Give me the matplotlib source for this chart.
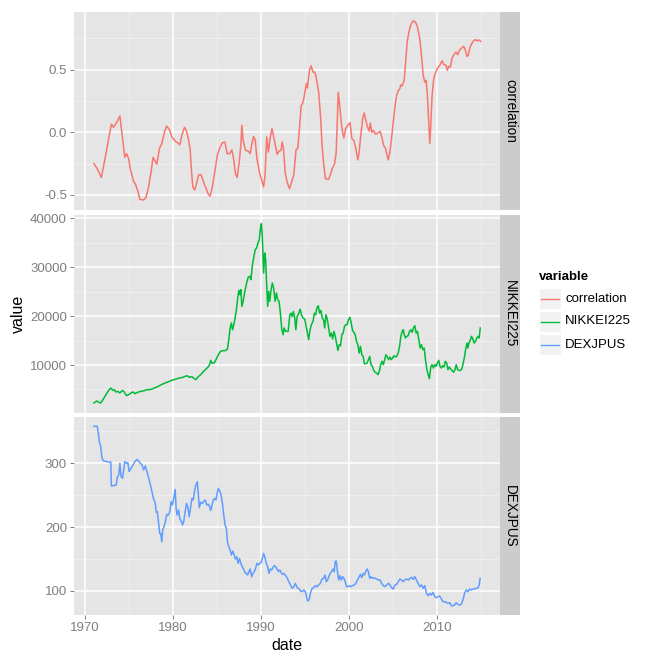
import matplotlib
matplotlib.use("Agg")
import matplotlib.pyplot as plt
from matplotlib.patches import Rectangle

plt.rcParams['font.family'] = ['Liberation Sans', 'DejaVu Sans']

# series (decimal years)
corr_year = [1971.06, 1971.44, 1971.9, 1972.4, 1972.7, 1973.04, 1973.27, 1973.65, 1974.0, 1974.3,
             1974.56, 1974.75, 1975.0, 1975.17, 1975.55, 1975.74, 1976.0, 1976.27, 1976.7, 1976.96,
             1977.22, 1977.53, 1977.76, 1978.2, 1978.48, 1978.75, 1979.05, 1979.3, 1979.6, 1979.9,
             1980.27, 1980.57, 1980.8, 1981.03, 1981.33, 1981.56, 1981.8, 1981.97, 1982.1, 1982.27,
             1982.47, 1982.66, 1982.93, 1983.23, 1983.5, 1983.73, 1984.0, 1984.22, 1984.45, 1984.75,
             1985.06, 1985.3, 1985.6, 1985.9, 1986.16, 1986.46, 1986.7, 1986.92, 1987.1, 1987.3,
             1987.53, 1987.72, 1987.83, 1987.98, 1988.25, 1988.55, 1988.78, 1988.97, 1989.16, 1989.35,
             1989.54, 1989.8, 1990.07, 1990.3, 1990.46, 1990.65, 1990.84, 1991.03, 1991.25, 1991.52,
             1991.83, 1992.05, 1992.28, 1992.4, 1992.55, 1992.74, 1992.97, 1993.23, 1993.46, 1993.72,
             1993.98, 1994.17, 1994.36, 1994.55, 1994.77, 1994.96, 1995.15, 1995.26, 1995.5, 1995.68,
             1995.9, 1996.1, 1996.28, 1996.54, 1996.77, 1996.92, 1997.1, 1997.3, 1997.67, 1997.86,
             1998.05, 1998.35, 1998.53, 1998.68, 1998.76, 1998.9, 1999.1, 1999.25, 1999.4, 1999.6,
             1999.85, 2000.1, 2000.3, 2000.53, 2000.75, 2000.98, 2001.13, 2001.35, 2001.54, 2001.7,
             2001.84, 2002.07, 2002.26, 2002.4, 2002.56, 2002.74, 2003.0, 2003.3, 2003.5, 2003.68,
             2003.9, 2004.14, 2004.28, 2004.44, 2004.62, 2004.8, 2005.0, 2005.2, 2005.38, 2005.56,
             2005.75, 2005.86, 2006.0, 2006.24, 2006.4, 2006.58, 2006.77, 2007.0, 2007.26, 2007.52,
             2007.74, 2008.0, 2008.2, 2008.38, 2008.57, 2008.72, 2008.87, 2009.02, 2009.14, 2009.25,
             2009.4, 2009.59, 2009.77, 2010.0, 2010.26, 2010.53, 2010.75, 2010.98, 2011.13, 2011.28,
             2011.47, 2011.65, 2011.88, 2012.1, 2012.3, 2012.48, 2012.78, 2012.97, 2013.16, 2013.35,
             2013.5, 2013.65, 2013.83, 2014.1, 2014.32, 2014.5, 2014.7, 2014.92]
corr_value = [-0.25, -0.29, -0.36, -0.18, -0.06, 0.064, 0.04, 0.08, 0.13, -0.05,
              -0.20, -0.17, -0.21, -0.29, -0.39, -0.41, -0.46, -0.535, -0.54, -0.52,
              -0.45, -0.32, -0.20, -0.255, -0.13, -0.09, 0.0, 0.05, 0.024, -0.037,
              -0.07, -0.085, -0.10, -0.024, 0.04, 0.01, -0.064, -0.136, -0.29, -0.436,
              -0.46, -0.42, -0.34, -0.34, -0.40, -0.44, -0.49, -0.51, -0.45, -0.32,
              -0.18, -0.13, -0.085, -0.077, -0.17, -0.17, -0.14, -0.22, -0.33, -0.36,
              -0.24, -0.10, 0.056, -0.064, -0.144, -0.15, -0.17, -0.09, -0.032, -0.064,
              -0.21, -0.31, -0.38, -0.436, -0.34, -0.037, -0.157, -0.05, 0.03, -0.064,
              -0.175, -0.15, -0.144, -0.077, -0.13, -0.32, -0.40, -0.45, -0.40, -0.34,
              -0.136, -0.13, 0.03, 0.21, 0.24, 0.31, 0.39, 0.354, 0.495, 0.53,
              0.48, 0.48, 0.43, 0.32, 0.11, -0.10, -0.25, -0.37, -0.375, -0.34,
              -0.295, -0.25, -0.157, 0.16, 0.32, 0.23, 0.08, 0.0, -0.045, 0.03,
              0.056, 0.077, -0.05, -0.064, -0.13, -0.22, -0.157, 0.0, 0.11, 0.154,
              0.11, 0.043, 0.01, 0.074, 0.0, 0.016, -0.016, -0.003, 0.008, -0.032,
              -0.104, -0.13, -0.18, -0.22, -0.157, -0.05, 0.08, 0.215, 0.295, 0.33,
              0.35, 0.38, 0.37, 0.415, 0.56, 0.72, 0.80, 0.86, 0.89, 0.88,
              0.84, 0.75, 0.61, 0.46, 0.40, 0.415, 0.295, 0.08, -0.09, 0.056,
              0.295, 0.43, 0.47, 0.51, 0.535, 0.57, 0.54, 0.535, 0.495, 0.527,
              0.52, 0.59, 0.62, 0.64, 0.62, 0.654, 0.673, 0.686, 0.66, 0.606,
              0.614, 0.667, 0.70, 0.73, 0.74, 0.73, 0.737, 0.726]

nikkei_year = [1971.06, 1971.37, 1971.63, 1971.83, 1972.13, 1972.47, 1972.74, 1972.97, 1973.2, 1973.35,
               1973.54, 1973.76, 1974.0, 1974.3, 1974.49, 1974.75, 1975.0, 1975.25, 1975.48, 1975.7,
               1976.0, 1976.4, 1976.77, 1977.07, 1977.34, 1977.64, 1977.9, 1978.2, 1978.48, 1978.86,
               1979.24, 1979.62, 1980.0, 1980.38, 1980.76, 1981.14, 1981.4, 1981.63, 1981.9, 1982.17,
               1982.4, 1982.62, 1982.85, 1983.16, 1983.46, 1983.76, 1984.0, 1984.18, 1984.3, 1984.45,
               1984.68, 1984.9, 1985.13, 1985.4, 1985.7, 1985.97, 1986.2, 1986.35, 1986.5, 1986.65,
               1986.77, 1986.88, 1987.03, 1987.19, 1987.34, 1987.49, 1987.6, 1987.72, 1987.83, 1987.98,
               1988.17, 1988.37, 1988.56, 1988.75, 1988.86, 1989.01, 1989.2, 1989.35, 1989.5, 1989.66,
               1989.81, 1989.92, 1990.04, 1990.15, 1990.3, 1990.42, 1990.53, 1990.65, 1990.76, 1990.87,
               1990.99, 1991.14, 1991.29, 1991.44, 1991.6, 1991.75, 1991.9, 1992.05, 1992.2, 1992.36,
               1992.51, 1992.62, 1992.81, 1993.08, 1993.27, 1993.42, 1993.53, 1993.68, 1993.83, 1993.95,
               1994.1, 1994.29, 1994.44, 1994.59, 1994.77, 1994.96, 1995.15, 1995.3, 1995.41, 1995.53,
               1995.71, 1995.9, 1996.05, 1996.2, 1996.35, 1996.5, 1996.65, 1996.8, 1996.95, 1997.1,
               1997.22, 1997.37, 1997.52, 1997.67, 1997.82, 1997.97, 1998.12, 1998.27, 1998.42, 1998.57,
               1998.72, 1998.87, 1999.02, 1999.17, 1999.32, 1999.47, 1999.62, 1999.77, 1999.92, 2000.08,
               2000.23, 2000.38, 2000.53, 2000.68, 2000.83, 2000.98, 2001.13, 2001.28, 2001.43, 2001.58,
               2001.73, 2001.88, 2002.03, 2002.18, 2002.33, 2002.48, 2002.63, 2002.78, 2002.93, 2003.12,
               2003.27, 2003.42, 2003.57, 2003.72, 2003.87, 2004.02, 2004.17, 2004.32, 2004.47, 2004.62,
               2004.77, 2004.92, 2005.08, 2005.23, 2005.38, 2005.56, 2005.71, 2005.86, 2006.02, 2006.13,
               2006.24, 2006.39, 2006.54, 2006.69, 2006.84, 2006.99, 2007.14, 2007.29, 2007.44, 2007.59,
               2007.74, 2007.89, 2008.05, 2008.2, 2008.35, 2008.5, 2008.65, 2008.8, 2008.95, 2009.1,
               2009.25, 2009.4, 2009.55, 2009.7, 2009.85, 2010.0, 2010.15, 2010.3, 2010.45, 2010.6,
               2010.75, 2010.9, 2011.05, 2011.2, 2011.35, 2011.5, 2011.65, 2011.84, 2011.99, 2012.14,
               2012.29, 2012.44, 2012.59, 2012.74, 2012.89, 2013.05, 2013.2, 2013.35, 2013.46, 2013.57,
               2013.72, 2013.87, 2014.02, 2014.17, 2014.32, 2014.47, 2014.62, 2014.74, 2014.86]
nikkei_value = [2240, 2650, 2370, 2240, 3050, 4080, 4830, 5300, 4830, 4960,
                4490, 4620, 4280, 4830, 4490, 3740, 3940, 4280, 4490, 4150,
                4420, 4620, 4760, 4960, 4960, 5100, 5300, 5510, 5780, 6120,
                6390, 6670, 6940, 7140, 7350, 7480, 7690, 7820, 7480, 7620,
                7280, 7010, 7550, 8030, 8640, 9190, 9600, 10070, 10960, 10410,
                10410, 11100, 11980, 12800, 12940, 12940, 13280, 15190, 17570, 18600,
                17230, 17910, 19280, 20980, 23370, 25280, 24390, 25410, 22000, 23030,
                25070, 26770, 28000, 28140, 27460, 30180, 32230, 33590, 33930, 34960,
                35640, 37680, 38910, 36320, 28820, 32910, 31550, 26090, 22000, 25070,
                23030, 25410, 26770, 25750, 23030, 24730, 23370, 23030, 20640, 17230,
                16210, 17570, 16890, 16870, 20270, 20610, 19930, 20950, 19590, 17210,
                19930, 20610, 21430, 20270, 19590, 19390, 17570, 16210, 15190, 16890,
                18250, 18930, 20610, 20270, 21770, 22100, 20610, 21160, 19590, 19250,
                17570, 20270, 19390, 17570, 15870, 16550, 15330, 16890, 15870, 14490,
                13000, 14150, 13950, 16210, 16550, 17910, 18250, 18250, 19280, 19750,
                18600, 17100, 16690, 16210, 14840, 14150, 12460, 13820, 12110, 11770,
                10270, 10270, 10410, 11100, 11770, 10070, 9730, 8910, 8510, 8370,
                8030, 8710, 10070, 10760, 10070, 11100, 12110, 11640, 11100, 11640,
                11100, 11430, 11910, 11640, 11770, 12460, 13820, 15870, 16890, 17230,
                16210, 15530, 15870, 16010, 16890, 17230, 16690, 17570, 18050, 16550,
                16890, 15190, 13480, 14150, 13140, 13480, 11100, 9190, 8030, 7210,
                9600, 10070, 9390, 10070, 9730, 10410, 10960, 9730, 9390, 9870,
                9600, 10760, 10410, 9050, 9600, 9190, 8910, 8510, 9050, 10070,
                9050, 8910, 8910, 9050, 10070, 11430, 13140, 14490, 13480, 14490,
                15050, 15870, 15330, 14490, 14840, 15530, 15870, 15530, 17570]

dexjpus_year = [1971.06, 1971.44, 1971.56, 1971.67, 1971.83, 1971.98, 1972.13, 1972.4, 1972.7, 1972.97,
                1973.04, 1973.27, 1973.57, 1973.73, 1973.88, 1974.0, 1974.14, 1974.3, 1974.41, 1974.56,
                1974.75, 1974.9, 1975.06, 1975.25, 1975.48, 1975.7, 1975.93, 1976.12, 1976.3, 1976.5,
                1976.7, 1976.88, 1977.07, 1977.26, 1977.45, 1977.64, 1977.83, 1977.98, 1978.14, 1978.25,
                1978.37, 1978.52, 1978.63, 1978.75, 1978.86, 1979.01, 1979.16, 1979.32, 1979.5, 1979.66,
                1979.81, 1979.96, 1980.11, 1980.27, 1980.38, 1980.49, 1980.65, 1980.8, 1980.95, 1981.1,
                1981.25, 1981.4, 1981.56, 1981.7, 1981.86, 1982.0, 1982.17, 1982.32, 1982.47, 1982.62,
                1982.78, 1982.89, 1983.0, 1983.16, 1983.35, 1983.54, 1983.69, 1983.84, 1984.03, 1984.18,
                1984.3, 1984.45, 1984.6, 1984.75, 1984.9, 1985.02, 1985.17, 1985.32, 1985.48, 1985.63,
                1985.78, 1985.93, 1986.08, 1986.2, 1986.35, 1986.5, 1986.65, 1986.8, 1986.96, 1987.1,
                1987.26, 1987.41, 1987.56, 1987.72, 1987.87, 1988.02, 1988.17, 1988.33, 1988.48, 1988.63,
                1988.78, 1988.94, 1989.09, 1989.24, 1989.39, 1989.54, 1989.7, 1989.85, 1990.0, 1990.15,
                1990.3, 1990.46, 1990.6, 1990.76, 1990.91, 1991.06, 1991.22, 1991.37, 1991.52, 1991.67,
                1991.83, 1991.98, 1992.13, 1992.28, 1992.43, 1992.59, 1992.74, 1992.89, 1993.16, 1993.35,
                1993.53, 1993.72, 1993.9, 1994.1, 1994.29, 1994.47, 1994.66, 1994.85, 1995.04, 1995.15,
                1995.3, 1995.45, 1995.6, 1995.79, 1995.98, 1996.17, 1996.35, 1996.54, 1996.73, 1996.92,
                1997.1, 1997.26, 1997.4, 1997.56, 1997.71, 1997.86, 1998.0, 1998.16, 1998.3, 1998.42,
                1998.53, 1998.65, 1998.8, 1998.95, 1999.1, 1999.25, 1999.4, 1999.55, 1999.7, 1999.85,
                2000.0, 2000.19, 2000.38, 2000.56, 2000.75, 2000.94, 2001.13, 2001.28, 2001.43, 2001.58,
                2001.73, 2001.88, 2002.03, 2002.18, 2002.33, 2002.48, 2002.63, 2002.78, 2002.93, 2003.12,
                2003.3, 2003.5, 2003.68, 2003.87, 2004.06, 2004.25, 2004.44, 2004.62, 2004.8, 2005.0,
                2005.19, 2005.38, 2005.56, 2005.75, 2005.94, 2006.13, 2006.3, 2006.5, 2006.7, 2006.88,
                2007.07, 2007.26, 2007.44, 2007.63, 2007.82, 2008.0, 2008.2, 2008.38, 2008.57, 2008.76,
                2008.95, 2009.14, 2009.32, 2009.5, 2009.7, 2009.89, 2010.08, 2010.26, 2010.45, 2010.64,
                2010.83, 2011.0, 2011.2, 2011.4, 2011.58, 2011.77, 2011.95, 2012.14, 2012.33, 2012.52,
                2012.7, 2012.9, 2013.08, 2013.27, 2013.46, 2013.65, 2013.83, 2014.02, 2014.2, 2014.4,
                2014.6, 2014.74, 2014.85]
dexjpus_value = [358, 358, 347, 334, 326, 308, 304, 303, 302, 302,
                 264.5, 265, 266, 279, 282, 300, 279, 276.5, 287, 302.6,
                 300, 301, 287, 292, 297, 302.6, 306, 304, 300, 298,
                 289.6, 296, 287, 277.5, 267, 255.6, 243.6, 240, 223, 224,
                 208.6, 190, 190, 177, 195.6, 200.8, 208.6, 220, 219, 224,
                 240, 234.7, 245, 259, 229.5, 219, 227, 213, 209.7, 203.4,
                 209.7, 224, 237, 232, 216.4, 229.5, 245, 242.6, 256.7, 266,
                 271, 253, 230.5, 239, 237, 241, 242.6, 234.7, 235.8, 232,
                 226, 234.7, 242.6, 245, 242.6, 253, 260.8, 256.7, 250.4, 237,
                 219, 203.4, 198, 177, 169.4, 164.2, 156.4, 162.7, 156.4, 150,
                 153.8, 143.3, 151, 143.3, 138, 134.5, 129.3, 127.6, 125, 130.3,
                 134.5, 122.4, 127.6, 130.3, 135.5, 143.3, 140.7, 143.3, 144.4, 151,
                 159, 152.2, 143.3, 138, 127.6, 134.5, 133, 137, 139.7, 138,
                 134, 130.3, 133, 129.3, 126, 127.6, 125, 122.4, 114.6, 109.4,
                 104.2, 106.8, 112, 105.2, 104.2, 100, 99, 101.6, 99, 91,
                 84.3, 85.9, 96.3, 104.2, 105.2, 108.4, 106.8, 109.4, 112, 118.8,
                 119.8, 125, 114.6, 117.2, 123.5, 127.6, 130.3, 134.5, 130.3, 146,
                 147, 133, 117.2, 124, 117.2, 122.4, 119.8, 114.6, 106.8, 106.8,
                 108.4, 106.8, 108.4, 109.4, 112, 117.2, 122.4, 126, 120.9, 127.6,
                 125, 130.3, 134.5, 130.3, 119.8, 122.4, 119.8, 120.9, 119.8, 118.8,
                 117.2, 117.2, 112, 108.4, 106.8, 109.4, 112, 109.4, 105.2, 103.1,
                 109.4, 110.4, 114.6, 118.8, 117.2, 114.6, 117.2, 118.8, 117.2, 119.8,
                 121.4, 118.3, 122.4, 117.2, 112, 106.8, 109.4, 104.2, 108.4, 96.3,
                 92.7, 96.3, 93.7, 97.9, 91.1, 89.6, 91.1, 92.2, 87.5, 83.3,
                 83.3, 82.2, 80.7, 81.7, 77, 77, 78, 81.7, 79.1, 78,
                 79.1, 85.9, 96.3, 101.6, 99, 103.1, 101.6, 103.1, 103.1, 104.2,
                 105.2, 109.4, 119.8]

variables = ['correlation', 'NIKKEI225', 'DEXJPUS']
colors = ['#F8766D', '#00BA38', '#619CFF']
series = [(corr_year, corr_value), (nikkei_year, nikkei_value), (dexjpus_year, dexjpus_value)]

y_major = [[-0.5, 0.0, 0.5], [10000, 20000, 30000, 40000], [100, 200, 300]]
y_minor = [[-0.25, 0.25, 0.75], [5000, 15000, 25000, 35000], [150, 250, 350]]
y_labels = [['-0.5', '0.0', '0.5'], ['10000', '20000', '30000', '40000'], ['100', '200', '300']]
y_lims = [(-0.62, 0.96), (190, 40680), (62.4, 372.5)]
x_major = [1970, 1980, 1990, 2000, 2010]
x_minor = [1975, 1985, 1995, 2005, 2015]

W, H = 659, 665
fig = plt.figure(figsize=(W / 100, H / 100), dpi=100)
fig.patch.set_facecolor('white')

# panel boxes in pixels: (top, bottom)
panel_rows = [(12, 210), (215, 413), (417, 615)]
left, right = 74, 500
strip_w = 20
grey50 = '#7F7F7F'

for i, (top, bot) in enumerate(panel_rows):
    ax = fig.add_axes([left / W, 1 - bot / H, (right - left) / W, (bot - top) / H])
    ax.set_facecolor('#E5E5E5')
    for s in ax.spines.values():
        s.set_visible(False)
    ax.set_axisbelow(True)
    xs, ys = series[i]
    ax.plot(xs, ys, color=colors[i], lw=1.1, solid_joinstyle='round')
    ax.set_xlim(1968.8, 2017.1)
    ax.set_ylim(*y_lims[i])
    ax.set_yticks(y_major[i])
    ax.set_yticklabels(y_labels[i])
    ax.set_yticks(y_minor[i], minor=True)
    ax.set_xticks(x_major)
    ax.set_xticks(x_minor, minor=True)
    ax.grid(which='major', color='white', lw=1.1)
    ax.grid(which='minor', color='#F2F2F2', lw=0.55)
    ax.tick_params(which='major', length=3, width=0.7, color=grey50, labelcolor=grey50,
                   labelsize=9.5, pad=2)
    ax.tick_params(which='minor', length=0)
    if i < 2:
        ax.tick_params(axis='x', which='major', length=0, labelbottom=False)

    sax = fig.add_axes([right / W, 1 - bot / H, strip_w / W, (bot - top) / H])
    sax.set_facecolor('#CCCCCC')
    sax.set_xticks([])
    sax.set_yticks([])
    for s in sax.spines.values():
        s.set_visible(False)
    sax.text(0.5, 0.5, variables[i], rotation=-90, ha='center', va='center',
             fontsize=9.8, color='black', transform=sax.transAxes)

fig.text(287 / W, 1 - 646 / H, 'date', ha='center', va='center', fontsize=11.5)
fig.text(18 / W, 1 - 314 / H, 'value', ha='center', va='center', rotation=90, fontsize=11.5)

# legend drawn in pixel space
lax = fig.add_axes([0, 0, 1, 1])
lax.set_xlim(0, W)
lax.set_ylim(H, 0)
lax.axis('off')
lax.patch.set_alpha(0)
lax.text(539, 277, 'variable', fontsize=9.5, fontweight='bold', ha='left', va='center')
for k, name in enumerate(variables):
    cy = 298.5 + k * 23
    lax.add_patch(Rectangle((539.3, cy - 10.5), 21.4, 21, facecolor='#F2F2F2', edgecolor='white', lw=0.8))
    lax.plot([541, 559], [cy, cy], color=colors[k], lw=1.0)
    lax.text(565, cy, name, fontsize=9.5, ha='left', va='center')

fig.savefig('out.png', dpi=100)
